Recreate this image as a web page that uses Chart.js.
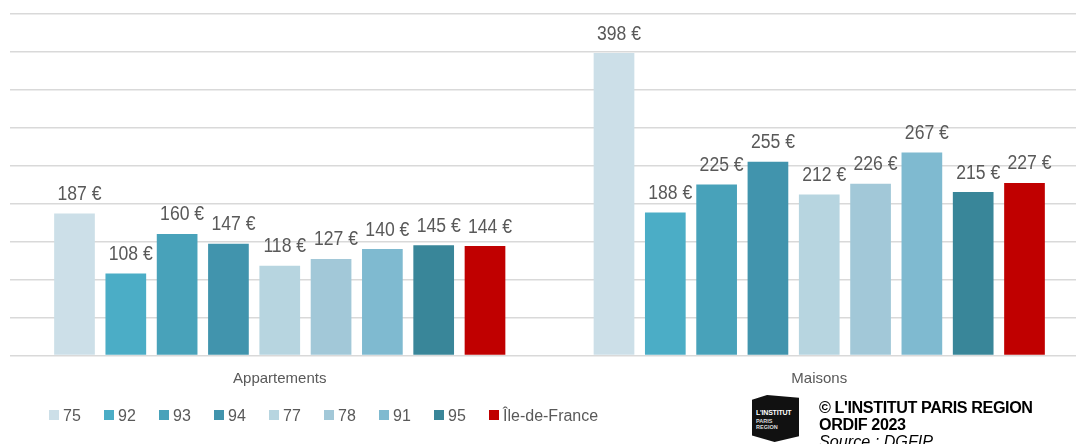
<!DOCTYPE html>
<html lang="fr">
<head>
<meta charset="utf-8">
<script src="https://cdn.jsdelivr.net/npm/chart.js@4.4.0/dist/chart.umd.min.js"></script>
<style>
  html, body { margin: 0; padding: 0; background: #fff; overflow: hidden; }
  #wrap { position: relative; width: 1076px; height: 444px; overflow: hidden; }
  #chart { position: absolute; left: 0; top: 0; }
  .logo {
    position: absolute; left: 752px; top: 395px; width: 47px; height: 47px;
    background: #111;
    clip-path: polygon(0 10%, 32% 0, 100% 6%, 100% 88%, 48% 100%, 0 86%);
    font-family: "Liberation Sans", Arial, sans-serif; color: #fff;
  }
  .logo .a { position: absolute; left: 4px; top: 14px; font-size: 7px; font-weight: bold; letter-spacing: -0.2px; }
  .logo .b { position: absolute; left: 4px; top: 23px; font-size: 5.5px; line-height: 6px; font-weight: bold; color: #ddd; }
  .credit {
    position: absolute; left: 819px; top: 399px;
    font-family: "Liberation Sans", Arial, sans-serif; font-size: 16px; line-height: 16px; color: #000;
    transform-origin: 0 0; transform: scale(1.01, 1.06);
  }
  .credit b { letter-spacing: -0.4px; }
  .credit i { font-weight: normal; font-size: 16px; }
</style>
</head>
<body>
<div id="wrap">
  <canvas id="chart" width="1090" height="444"></canvas>
  <div class="logo"><span class="a">L'INSTITUT</span><span class="b">PARIS<br>REGION</span></div>
  <div class="credit"><b>© L'INSTITUT PARIS REGION<br>ORDIF 2023</b><br><i>Source : DGFIP</i></div>
</div>

<script>
// Categories and series
const categories = ['Appartements', 'Maisons'];
const seriesNames = ['75', '92', '93', '94', '77', '78', '91', '95', 'Île-de-France'];
const seriesColors = ['#CCDFE8', '#4BADC6', '#48A2BA', '#4194AD', '#B7D5E0', '#A2C8D8', '#7FBAD0', '#398699', '#C00000'];

const v75 = [187, 398];
const v92 = [108, 188];
const v93 = [160, 225];
const v94 = [147, 255];
const v77 = [118, 212];
const v78 = [127, 226];
const v91 = [140, 267];
const v95 = [145, 215];
const vIdf = [144, 227];
const seriesValues = [v75, v92, v93, v94, v77, v78, v91, v95, vIdf];

const yMax = 450;
const yStep = 50;

const textGrey = '#595959';
const fontName = '"Liberation Sans", Arial, sans-serif';

// Value labels above each bar (text is a bit narrow in the original, so squeeze it)
const valueLabels = {
  id: 'valueLabels',
  afterDatasetsDraw(chart) {
    const ctx = chart.ctx;
    const sx = 0.88;
    ctx.save();
    ctx.font = '20px ' + fontName;
    ctx.fillStyle = textGrey;
    ctx.textAlign = 'center';
    ctx.textBaseline = 'alphabetic';
    ctx.scale(sx, 1);
    chart.data.datasets.forEach((ds, i) => {
      chart.getDatasetMeta(i).data.forEach((bar, j) => {
        ctx.fillText(ds.data[j] + ' €', (bar.x + 5) / sx, bar.y - 13.5);
      });
    });
    ctx.restore();
  }
};

// Legend drawn in a fixed row under the axis
const bottomLegend = {
  id: 'bottomLegend',
  afterDraw(chart) {
    const ctx = chart.ctx;
    ctx.save();
    ctx.font = '16px ' + fontName;
    ctx.textBaseline = 'alphabetic';
    ctx.textAlign = 'left';
    chart.data.datasets.forEach((ds, i) => {
      const x = 49 + 55 * i;
      ctx.fillStyle = ds.backgroundColor;
      ctx.fillRect(x, 410, 10, 10);
      ctx.fillStyle = textGrey;
      ctx.fillText(ds.label, x + 14, 421);
    });
    ctx.restore();
  }
};

const ctx = document.getElementById('chart').getContext('2d');
new Chart(ctx, {
  type: 'bar',
  data: {
    labels: categories,
    datasets: seriesNames.map((name, i) => ({
      label: name,
      data: seriesValues[i],
      backgroundColor: seriesColors[i],
      borderWidth: 0,
      categoryPercentage: 0.856,
      barPercentage: 0.793
    }))
  },
  options: {
    responsive: false,
    animation: false,
    layout: { padding: { left: 10, right: 1, top: 13.5, bottom: 0 } },
    plugins: {
      legend: { display: false },
      tooltip: { enabled: false }
    },
    scales: {
      x: {
        grid: { display: false, drawTicks: false },
        border: { display: false },
        ticks: { color: textGrey, font: { family: fontName, size: 15 }, padding: 14 },
        afterFit(scale) { scale.height = 88.5; }
      },
      y: {
        min: 0,
        max: yMax,
        ticks: { display: false, stepSize: yStep },
        grid: { color: '#D9D9D9', lineWidth: 1.5, drawTicks: false },
        border: { display: false },
        afterFit(scale) { scale.width = 0; }
      }
    }
  },
  plugins: [valueLabels, bottomLegend]
});
</script>
</body>
</html>
